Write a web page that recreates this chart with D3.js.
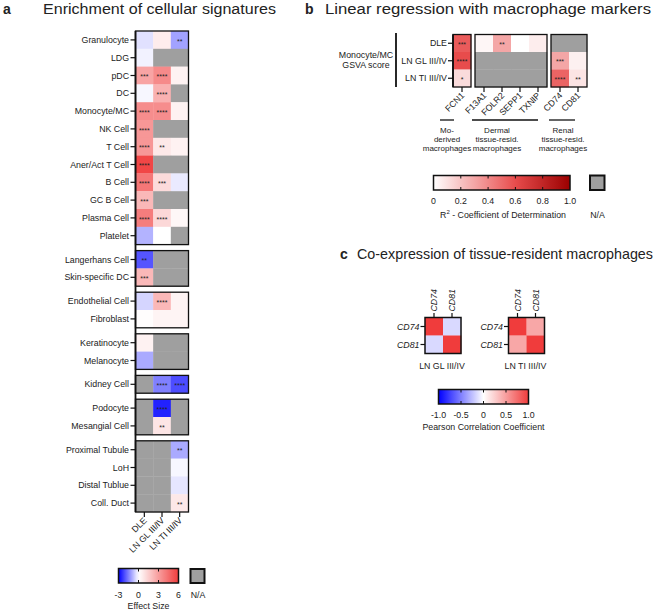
<!DOCTYPE html>
<html><head><meta charset="utf-8">
<script src="https://cdn.jsdelivr.net/npm/d3@7"></script>
<style>
body{margin:0;background:#fff}
text{font-family:"Liberation Sans",Arial,sans-serif;fill:#222}
</style>
</head><body>
<svg id="chart" width="660" height="610"></svg>
<script>
// ---------- Panel a data ----------
const cellTypes = ["Granulocyte","LDG","pDC","DC","Monocyte/MC","NK Cell","T Cell","Aner/Act T Cell","B Cell","GC B Cell","Plasma Cell","Platelet",
  "Langerhans Cell","Skin-specific DC","Endothelial Cell","Fibroblast","Keratinocyte","Melanocyte","Kidney Cell","Podocyte","Mesangial Cell",
  "Proximal Tubule","LoH","Distal Tublue","Coll. Duct"];
const groupSizes = [12,2,2,2,1,2,4];
const conditions = ["DLE","LN GL III/IV","LN TI III/IV"];
const effectDLE = [-0.35,-0.15,2.8,-0.1,3.5,3.2,3.2,5.7,4.2,2.2,4.0,-0.9,-2.0,2.2,-0.5,0.05,0.4,-1.0,null,null,null,null,null,null,null];
const effectGL  = [0.6,null,3.6,2.4,3.5,null,0.7,null,1.1,null,1.2,0.0,null,null,2.2,0.35,null,null,-1.5,-2.6,0.8,null,null,null,null];
const effectTI  = [-1.1,null,0.4,null,0.4,null,0.4,null,-0.25,null,0.25,null,null,null,0.35,0.35,null,null,-2.1,null,null,-1.0,-0.1,-0.3,0.7];
const sigDLE = ["","","***","","****","****","****","****","****","***","****","","**","***","","","","","","","","","","",""];
const sigGL  = ["","","****","****","****","","**","","***","","****","","","","****","","","","****","****","**","","","",""];
const sigTI  = ["**","","","","","","","","","","","","","","","","","","****","","","**","","","**"];
const effectTicks = [-3,0,3,6];

// ---------- Panel b data ----------
const markers = ["FCN1","F13A1","FOLR2","SEPP1","TXNIP","CD74","CD81"];
const markerBlock = [0,1,1,1,1,2,2];
const markerGroupLabels = [["Mo-","derived","macrophages"],["Dermal","tissue-resid.","macrophages"],["Renal","tissue-resid.","macrophages"]];
const r2DLE = [0.55,0.03,0.3,0.0,0.06,null,null];
const r2GL  = [0.6,null,null,null,null,0.3,0.05];
const r2TI  = [0.12,null,null,null,null,0.52,0.09];
const r2SigDLE = ["***","","**","","","",""];
const r2SigGL  = ["****","","","","","***",""];
const r2SigTI  = ["*","","","","","****","**"];
const r2Ticks = [0,0.2,0.4,0.6,0.8,1.0];

// ---------- Panel c data ----------
const coGenes = ["CD74","CD81"];
const corrGL = [[1,-0.15],[-0.15,1]];
const corrTI = [[1,0.45],[0.45,1]];
const corrTicks = [-1,-0.5,0,0.5,1];
const corrTickLabels = ["-1.0","-0.5","0","0.5","1.0"];

const NA = "#9f9f9f";
const svg = d3.select("#chart");

function title(x, letter, tx, txt, y, fs, len){
  svg.append("text").attr("x",x).attr("y",y).attr("font-size",14).attr("font-weight","bold").text(letter);
  svg.append("text").attr("x",tx).attr("y",y).attr("font-size",fs)
    .attr("textLength",len).attr("lengthAdjust","spacingAndGlyphs").text(txt);
}
title(3,"a",43,"Enrichment of cellular signatures",14,15.5,233);
title(305,"b",325,"Linear regression with macrophage markers",14,15.5,326);
title(340,"c",357,"Co-expression of tissue-resident macrophages",259,14.3,296);

// ===== Panel a =====
const rowH = 17.8, gapPx = 6;
const gapF = gapPx/rowH;
const rowGroup = [];
groupSizes.forEach((n,g)=>{for(let i=0;i<n;i++) rowGroup.push(g);});
const yA = d3.scaleLinear().domain([0, cellTypes.length + (groupSizes.length-1)*gapF]).range([31, 31 + cellTypes.length*rowH + (groupSizes.length-1)*gapPx]);
const xA = d3.scaleBand().domain(conditions).range([135.5,188.5]);
const effColor = d3.scaleLinear().domain([-3,0,6]).range(["#0000ff","#ffffff","#f03c3c"]).clamp(true);
const rowTop = i => yA(i + rowGroup[i]*gapF);
const effSeries = [effectDLE,effectGL,effectTI], sigSeries=[sigDLE,sigGL,sigTI];
const gA = svg.append("g");
cellTypes.forEach((ct,i)=>{
  conditions.forEach((c,j)=>{
    const v = effSeries[j][i];
    gA.append("rect").attr("x",xA(c)).attr("y",rowTop(i)).attr("width",xA.bandwidth()+0.3).attr("height",rowH+0.3)
      .attr("fill", v===null? NA : effColor(v));
    const s = sigSeries[j][i];
    if(s) gA.append("text").attr("x",xA(c)+xA.bandwidth()/2).attr("y",rowTop(i)+rowH/2+3.6).attr("text-anchor","middle").attr("font-size",7).attr("fill","#333").text(s);
  });
  const cy = rowTop(i)+rowH/2;
  gA.append("line").attr("x1",130.5).attr("x2",135.5).attr("y1",cy).attr("y2",cy).attr("stroke","#111").attr("stroke-width",1.2);
  gA.append("text").attr("x",129).attr("y",cy+3.1).attr("text-anchor","end").attr("font-size",8.8).text(ct);
});
let start=0;
groupSizes.forEach((n,g)=>{
  const t = rowTop(start), b = rowTop(start+n-1)+rowH;
  gA.append("rect").attr("x",135.5).attr("y",t).attr("width",53).attr("height",b-t).attr("fill","none").attr("stroke","#111").attr("stroke-width",1.3);
  start+=n;
});
const aBottom = rowTop(cellTypes.length-1)+rowH;
gA.append("line").attr("x1",135.5).attr("x2",135.5).attr("y1",31).attr("y2",aBottom).attr("stroke","#111").attr("stroke-width",1.8);
conditions.forEach(c=>{
  const cx = xA(c)+xA.bandwidth()/2;
  gA.append("line").attr("x1",cx).attr("x2",cx).attr("y1",aBottom).attr("y2",aBottom+5).attr("stroke","#111").attr("stroke-width",1.2);
  gA.append("text").attr("transform",`translate(${cx+3},${aBottom+9}) rotate(-45)`).attr("text-anchor","end").attr("font-size",8.8).text(c);
});
const lgA = d3.scaleLinear().domain([-3,6]).range([118.5,178.5]);
function gradBar(id, scale, colorScale, y, h){
  const dom = scale.domain();
  const grad = svg.append("defs").append("linearGradient").attr("id",id);
  d3.range(0,1.0001,0.05).forEach(t=>{
    const v = dom[0]+t*(dom[1]-dom[0]);
    grad.append("stop").attr("offset",t).attr("stop-color",colorScale(v));
  });
  const r = scale.range();
  svg.append("rect").attr("x",r[0]).attr("y",y).attr("width",r[1]-r[0]).attr("height",h).attr("fill",`url(#${id})`).attr("stroke","#111").attr("stroke-width",1.5);
}
gradBar("gA", lgA, effColor, 568.5, 14.5);
effectTicks.forEach(t=>{
  const x = lgA(t);
  if(t>-3 && t<6){
    svg.append("line").attr("x1",x).attr("x2",x).attr("y1",568.5).attr("y2",571.5).attr("stroke","#111");
    svg.append("line").attr("x1",x).attr("x2",x).attr("y1",580).attr("y2",583).attr("stroke","#111");
  }
  svg.append("text").attr("x",x).attr("y",597.5).attr("text-anchor","middle").attr("font-size",8.8).text(t);
});
svg.append("text").attr("x",148.5).attr("y",608.5).attr("text-anchor","middle").attr("font-size",8.8).text("Effect Size");
svg.append("rect").attr("x",190.5).attr("y",569).attr("width",14).attr("height",14).attr("fill",NA).attr("stroke","#111").attr("stroke-width",2);
svg.append("text").attr("x",198).attr("y",597.5).attr("text-anchor","middle").attr("font-size",8.8).text("N/A");

// ===== Panel b =====
const colW = 18, bGap = 4, bGF = bGap/colW;
const xB = d3.scaleLinear().domain([0, markers.length + 2*bGF]).range([453, 453 + markers.length*colW + 2*bGap]);
const colLeft = j => xB(j + markerBlock[j]*bGF);
const yB = d3.scaleBand().domain(conditions).range([34.5,87]);
const r2Color = d3.scaleLinear().domain([0,0.6,1]).range(["#ffffff","#e84c4c","#9a0000"]).clamp(true);
const r2Series=[r2DLE,r2GL,r2TI], r2SigSeries=[r2SigDLE,r2SigGL,r2SigTI];
const gB = svg.append("g");
conditions.forEach((c,i)=>{
  markers.forEach((m,j)=>{
    const v = r2Series[i][j];
    gB.append("rect").attr("x",colLeft(j)).attr("y",yB(c)).attr("width",colW+0.3).attr("height",yB.bandwidth()+0.3).attr("fill", v===null?NA:r2Color(v));
    const s = r2SigSeries[i][j];
    if(s) gB.append("text").attr("x",colLeft(j)+colW/2).attr("y",yB(c)+yB.bandwidth()/2+3.6).attr("text-anchor","middle").attr("font-size",7).attr("fill","#333").text(s);
  });
  const cy = yB(c)+yB.bandwidth()/2;
  gB.append("line").attr("x1",448).attr("x2",453).attr("y1",cy).attr("y2",cy).attr("stroke","#111").attr("stroke-width",1.2);
  gB.append("text").attr("x",447).attr("y",cy+3.1).attr("text-anchor","end").attr("font-size",8.8).text(c);
});
[0,1,2].forEach(b=>{
  const idx = markerBlock.map((mb,j)=>mb===b?j:-1).filter(j=>j>=0);
  const l = colLeft(idx[0]), r = colLeft(idx[idx.length-1])+colW;
  gB.append("rect").attr("x",l).attr("y",34.5).attr("width",r-l).attr("height",52.5).attr("fill","none").attr("stroke","#111").attr("stroke-width",1.3);
});
gB.append("line").attr("x1",453).attr("x2",453).attr("y1",34.5).attr("y2",87).attr("stroke","#111").attr("stroke-width",1.8);
markers.forEach((m,j)=>{
  const cx = colLeft(j)+colW/2;
  gB.append("line").attr("x1",cx).attr("x2",cx).attr("y1",87).attr("y2",92).attr("stroke","#111").attr("stroke-width",1.2);
  gB.append("text").attr("transform",`translate(${cx+3},${96}) rotate(-45)`).attr("text-anchor","end").attr("font-size",8.8).text(m);
});
gB.append("line").attr("x1",396).attr("x2",396).attr("y1",33).attr("y2",87).attr("stroke","#111").attr("stroke-width",1.8);
gB.append("text").attr("x",366).attr("y",58).attr("text-anchor","middle").attr("font-size",8.8).text("Monocyte/MC");
gB.append("text").attr("x",366).attr("y",68).attr("text-anchor","middle").attr("font-size",8.8).text("GSVA score");
const grpLines = [[440,454,447],[472,538,497],[549,575,563]];
markerGroupLabels.forEach((lines,k)=>{
  const [x1,x2,cx] = grpLines[k];
  gB.append("line").attr("x1",x1).attr("x2",x2).attr("y1",120).attr("y2",120).attr("stroke","#111").attr("stroke-width",1.3);
  lines.forEach((t,li)=>gB.append("text").attr("x",cx).attr("y",133+li*9).attr("text-anchor","middle").attr("font-size",8).text(t));
});
const lgB = d3.scaleLinear().domain([0,1]).range([433.5,570]);
gradBar("gB", lgB, r2Color, 175.5, 14.5);
r2Ticks.forEach(t=>{
  const x = lgB(t);
  if(t>0 && t<1){
    svg.append("line").attr("x1",x).attr("x2",x).attr("y1",175.5).attr("y2",178.5).attr("stroke","#111");
    svg.append("line").attr("x1",x).attr("x2",x).attr("y1",187).attr("y2",190).attr("stroke","#111");
  }
  svg.append("text").attr("x",x).attr("y",204).attr("text-anchor","middle").attr("font-size",8.8).text(t===0?"0":t.toFixed(1));
});
const rt = svg.append("text").attr("x",503).attr("y",217.5).attr("text-anchor","middle").attr("font-size",8.8);
rt.append("tspan").text("R");
rt.append("tspan").attr("font-size",6).attr("dy",-3.5).text("2");
rt.append("tspan").attr("dy",3.5).text(" - Coefficient of  Determination");
svg.append("rect").attr("x",590).attr("y",175.5).attr("width",14.5).attr("height",14.5).attr("fill",NA).attr("stroke","#111").attr("stroke-width",2);
svg.append("text").attr("x",597.5).attr("y",217.5).attr("text-anchor","middle").attr("font-size",8.8).text("N/A");

// ===== Panel c =====
const corrColor = d3.scaleLinear().domain([-1,0,1]).range(["#0000ff","#ffffff","#f03c3c"]).clamp(true);
function corrMap(mat, x0, label){
  const xs = d3.scaleBand().domain(coGenes).range([x0, x0+36]);
  const ys = d3.scaleBand().domain(coGenes).range([317.5, 353.5]);
  const g = svg.append("g");
  coGenes.forEach((r,i)=>coGenes.forEach((c,j)=>{
    g.append("rect").attr("x",xs(c)).attr("y",ys(r)).attr("width",xs.bandwidth()+0.3).attr("height",ys.bandwidth()+0.3).attr("fill",corrColor(mat[i][j]));
  }));
  g.append("rect").attr("x",x0).attr("y",317.5).attr("width",36).attr("height",36).attr("fill","none").attr("stroke","#111").attr("stroke-width",1.5);
  coGenes.forEach(gn=>{
    const cy = ys(gn)+ys.bandwidth()/2;
    g.append("line").attr("x1",x0-4.5).attr("x2",x0).attr("y1",cy).attr("y2",cy).attr("stroke","#111").attr("stroke-width",1.2);
    g.append("text").attr("x",x0-5.5).attr("y",cy+3.1).attr("text-anchor","end").attr("font-size",8.8).attr("font-style","italic").text(gn);
    const cx = xs(gn)+xs.bandwidth()/2;
    g.append("line").attr("x1",cx).attr("x2",cx).attr("y1",313).attr("y2",317.5).attr("stroke","#111").attr("stroke-width",1.2);
    g.append("text").attr("transform",`translate(${cx+3.1},${311.5}) rotate(-90)`).attr("font-size",8.8).attr("font-style","italic").text(gn);
  });
  g.append("text").attr("x",x0+17).attr("y",369).attr("text-anchor","middle").attr("font-size",8.8).text(label);
}
corrMap(corrGL, 425, "LN GL III/IV");
corrMap(corrTI, 508.5, "LN TI III/IV");
const lgC = d3.scaleLinear().domain([-1,1]).range([438.5,528.5]);
gradBar("gC", lgC, corrColor, 389.5, 14.5);
corrTicks.forEach((t,k)=>{
  const x = lgC(t);
  if(t>-1 && t<1){
    svg.append("line").attr("x1",x).attr("x2",x).attr("y1",389.5).attr("y2",392.5).attr("stroke","#111");
    svg.append("line").attr("x1",x).attr("x2",x).attr("y1",401).attr("y2",404).attr("stroke","#111");
  }
  svg.append("text").attr("x",x).attr("y",418).attr("text-anchor","middle").attr("font-size",8.8).text(corrTickLabels[k]);
});
svg.append("text").attr("x",483.5).attr("y",429.5).attr("text-anchor","middle").attr("font-size",8.8).text("Pearson Correlation Coefficient");
</script>
</body></html>
